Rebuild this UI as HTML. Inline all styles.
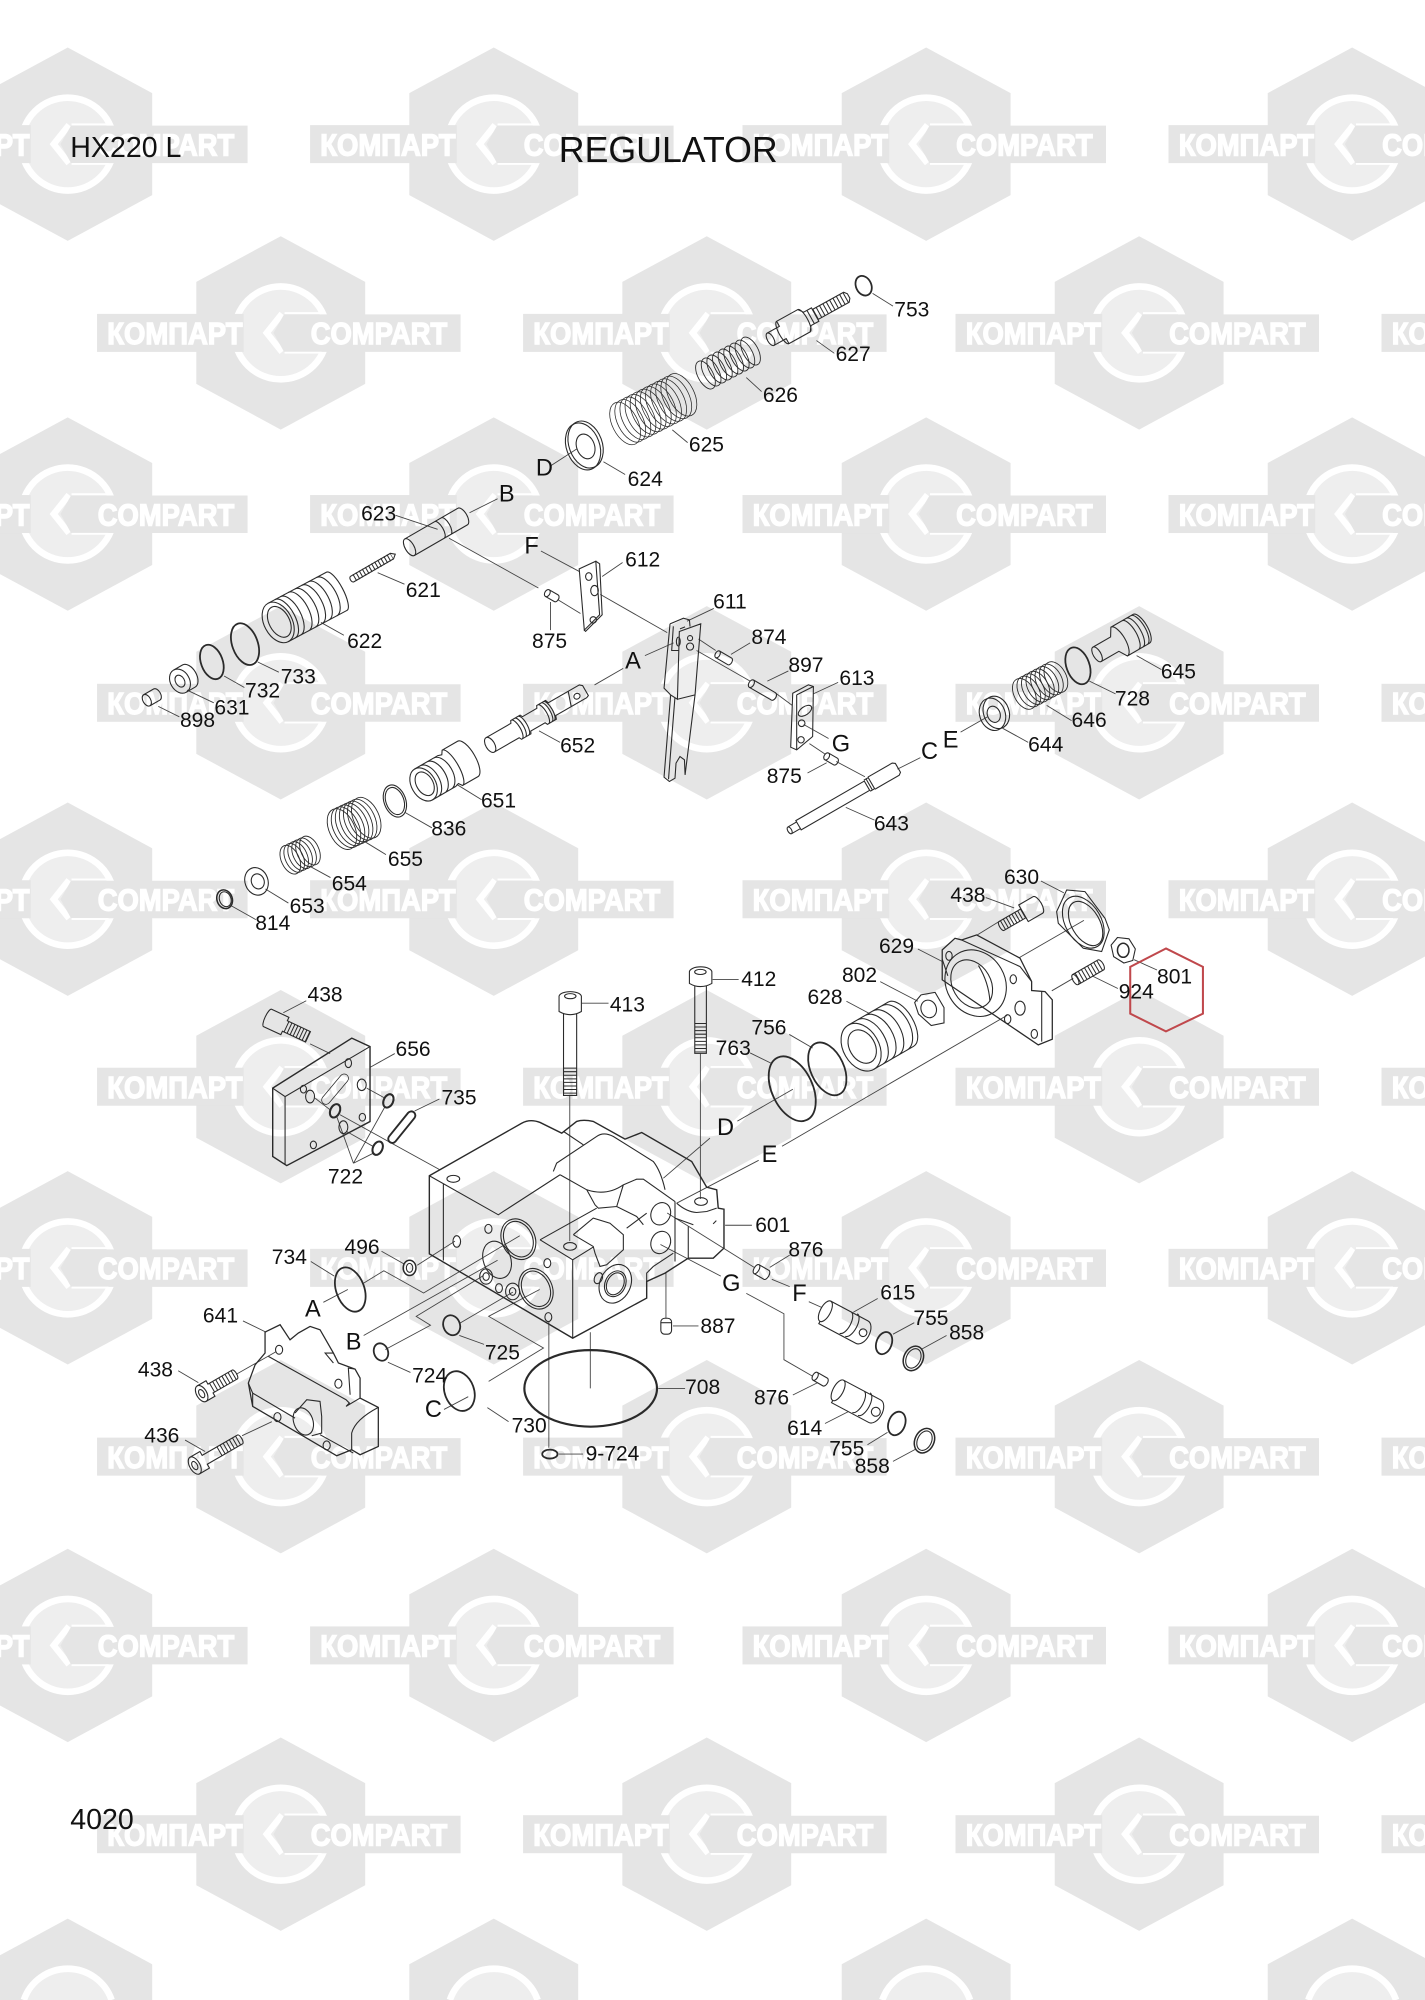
<!DOCTYPE html>
<html><head><meta charset="utf-8"><title>HX220 L Regulator</title>
<style>
html,body{margin:0;padding:0;background:#fff;width:1425px;height:2000px;overflow:hidden}
svg{display:block}
text{font-family:"Liberation Sans",sans-serif}
.l text{font-size:16.5px;fill:#111}
.c text{font-size:18.5px;fill:#111}
</style></head><body>
<svg xmlns="http://www.w3.org/2000/svg" width="1425" height="2000" viewBox="0 0 1117 1568">
<defs>
<g id="w">
<path d="M0-75.8 66.200-40V40L0 75.800-66.200 40V-40Z" fill="#e5e5e5"/>
<circle r="36.400" fill="#eeeeee" stroke="#fff" stroke-width="5.200"/>
<rect x="-144" y="-14.900" width="115" height="29.800" fill="#e5e5e5"/>
<path d="M1-15-11 0 1 15" fill="none" stroke="#fff" stroke-width="5"/>
<path d="M-5.700 0 2.600-14.500H141V14.900H2.600Z" fill="#e5e5e5"/>
<path d="M3-15.500H32M3 15.500H32" stroke="#fff" stroke-width="1.500"/>
<text x="-136" y="8.800" font-size="24" font-weight="bold" fill="#fff" stroke="#fff" stroke-width="1.100" textLength="106" lengthAdjust="spacingAndGlyphs">КОМПАРТ</text>
<text x="23.500" y="8.800" font-size="24" font-weight="bold" fill="#fff" stroke="#fff" stroke-width="1.100" textLength="107" lengthAdjust="spacingAndGlyphs">COMPART</text>
</g>
<g id="wt">
<path d="M0-75.800 66.200-40V-12H-66.200V-40Z" fill="#e5e5e5"/>
<path d="M-34.400-12A36.400 36.400 0 0 1 34.400-12Z" fill="#eeeeee"/>
<path d="M-34.400-12A36.400 36.400 0 0 1 34.400-12" fill="none" stroke="#fff" stroke-width="5.200"/>
</g>
</defs>
<rect width="1117" height="1568" fill="#fff"/>
<g>
<use href="#w" x="53" y="113"/><use href="#w" x="387" y="113"/><use href="#w" x="726" y="113"/><use href="#w" x="1060" y="113"/>
<use href="#w" x="220" y="261"/><use href="#w" x="554" y="261"/><use href="#w" x="893" y="261"/><use href="#w" x="1227" y="261"/>
<use href="#w" x="53" y="403"/><use href="#w" x="387" y="403"/><use href="#w" x="726" y="403"/><use href="#w" x="1060" y="403"/>
<use href="#w" x="220" y="551"/><use href="#w" x="554" y="551"/><use href="#w" x="893" y="551"/><use href="#w" x="1227" y="551"/>
<use href="#w" x="53" y="705"/><use href="#w" x="387" y="705"/><use href="#w" x="726" y="705"/><use href="#w" x="1060" y="705"/>
<use href="#w" x="220" y="852"/><use href="#w" x="554" y="852"/><use href="#w" x="893" y="852"/><use href="#w" x="1227" y="852"/>
<use href="#w" x="53" y="994"/><use href="#w" x="387" y="994"/><use href="#w" x="726" y="994"/><use href="#w" x="1060" y="994"/>
<use href="#w" x="220" y="1142"/><use href="#w" x="554" y="1142"/><use href="#w" x="893" y="1142"/><use href="#w" x="1227" y="1142"/>
<use href="#w" x="53" y="1290"/><use href="#w" x="387" y="1290"/><use href="#w" x="726" y="1290"/><use href="#w" x="1060" y="1290"/>
<use href="#w" x="220" y="1438"/><use href="#w" x="554" y="1438"/><use href="#w" x="893" y="1438"/><use href="#w" x="1227" y="1438"/>
<use href="#wt" x="53" y="1580"/><use href="#wt" x="387" y="1580"/><use href="#wt" x="726" y="1580"/><use href="#wt" x="1060" y="1580"/>
</g>

<!-- leaders -->
<path fill="none" stroke="#444" stroke-width=".7" d="M684 230 700 240M640 267 654 277M585 296 597 307M527 337 539 347M432 365 452 352M473 362 490 372
M368 402 390 391M310 404 343 415M352 422 422 461M437 470 455 481M424 432 454 448M472 452 488 441M431.500 472V494M470.500 466 523 496M296 449 317 458M251.500 488 269.500 498M202 519 218.500 527M175.600 530 191.500 539M146.500 541 167.500 551M124 553.800 140.500 562
M538.500 487 559.500 477M505.500 514 528 504M546 510 588 534M607.500 543 621 553M547.500 501 561 510M573 513 588 504M601.500 534 618 526M637.500 544 657 535M630 568 649.500 579M634.500 583 646.500 591M655.500 597 678 609M633 606 648 598M663 633 685.500 643M703.500 603 721.500 594M753 574 774 562M786 571 806 582M820.500 553 840 565M854 534 874.500 544M891 514 910.500 525
M422.500 573 439 582M466 537 488.500 524M358 615 377.500 627M317.500 637 338.500 649M284.500 659 302.500 670M242.500 679 259 688M208 697 226 708M181 710 200.500 721
M816 690.700 834 700M772.700 703.700 795 711.800M766 733 784 722M799 750.800 849.700 721.600M824.500 776.800 841.300 767M856.700 765.400 876.300 775M889 752.400 907 760.500M690 769.600 719.500 785M719.500 744 739 754M663.500 785 681.700 794.700M618.700 811 637 821.600M588 825.500 604.700 833.700M578 879 621.500 854M613 898.700 789.500 796
M558.600 768H579M549 826V940M456 786.500H477M446.600 859V973M430.200 1036V1135M438 1140H457M516 1088.500H537M462.700 1044.500V1088.500
M299 981 316.400 990.800M327 992 356.600 973M243.600 989 262 1000.500M253.400 1021 272.600 1011M285 1006 300.800 996.300 332 1013.700 407.400 968.800M285 1047 390 988M304 1068 321.700 1076M302 1058 337.400 1039 326.200 1032 379 1000M360 1047 379.400 1054M360 1037.600 402 1013M348 1105 367 1095M382 1103.600 398.600 1114.600M383 1083 426 1056.800 383 1032 423 1011
M568.400 960.600H589.400M520 923.700 556.500 892.300M530.400 943.300 594.700 909.700M603.400 993.600 619 984M605 1003 619 1008.700M523 951 591 993.500M517.700 975.700 565 1000.500M585 1014 614.500 1030V1066L637 1079M621.500 1093.700 641 1084M527.500 1039.500H547.500M522 997.700V1033.500M634 1020.500 644 1025M669 1028.700 688 1018M700 1046 716.700 1037M722 1058 742 1047M646.700 1116 665 1106.700M680 1132.700 695.700 1123M700 1145.700 718 1136
M190.400 1035.600 208.600 1044.500M139.600 1074.700 155.400 1084M185 1077.500 216.600 1059.600M145 1129 160.700 1138M189.700 1125.600 213 1114.600M222 794 240 784.600M243 818.400 258.700 826M290 836.800 309.400 826M325 871 344.400 861.600M277 912 263.900 875.400M277 912 301.800 867.500M277 912 292.600 904.100M247 861 258.700 870.100M266.500 874 344.900 917.200M271.700 887.100 292.600 898.900M287.400 853.100 301.800 861"/>

<g fill="none" stroke="#2a2a2a" stroke-width=".85">
<!-- o rings -->
<g stroke-width="1.400">
<ellipse cx="677" cy="224" rx="6" ry="8" transform="rotate(-25 677 224)"/>
<ellipse cx="192" cy="505" rx="10" ry="17" transform="rotate(-20 192 505)"/>
<ellipse cx="166" cy="519" rx="8.500" ry="14" transform="rotate(-20 166 519)"/>
<ellipse cx="845" cy="522" rx="9" ry="15" transform="rotate(-20 845 522)"/>
<ellipse cx="648.500" cy="838" rx="13" ry="22" transform="rotate(-25 648.500 838)"/>
<ellipse cx="621" cy="853.600" rx="16" ry="27" transform="rotate(-25 621 853.600)"/>
<ellipse cx="463" cy="1088.500" rx="52" ry="30" stroke-width="1.700"/>
<ellipse cx="274.500" cy="1011" rx="11" ry="18" transform="rotate(-20 274.500 1011)"/>
<ellipse cx="298.600" cy="1060" rx="5.500" ry="7" transform="rotate(-20 298.600 1060)"/>
<ellipse cx="354" cy="1039" rx="6.500" ry="8" transform="rotate(-20 354 1039)"/>
<ellipse cx="360" cy="1090.600" rx="11.500" ry="16" transform="rotate(-20 360 1090.600)"/>
<ellipse cx="693" cy="1053" rx="6" ry="9" transform="rotate(20 693 1053)"/>
<ellipse cx="703" cy="1116" rx="6.500" ry="9.500" transform="rotate(20 703 1116)"/>
<ellipse cx="431" cy="1140" rx="6" ry="3.500"/>
<ellipse cx="304.400" cy="863.100" rx="3.700" ry="5.500" transform="rotate(25 304.400 863.100)" stroke-width="1.600"/>
<ellipse cx="262.600" cy="870.900" rx="3.700" ry="5.500" transform="rotate(25 262.600 870.900)" stroke-width="1.600"/>
<ellipse cx="296" cy="900.200" rx="3.700" ry="5.500" transform="rotate(25 296 900.200)" stroke-width="1.600"/>
<rect x="-15" y="-3.200" width="30" height="6.400" rx="3.200" transform="translate(314.900 883.700) rotate(-51)" stroke-width="1.500"/>
</g>
<!-- 627 -->
<g transform="translate(604 266) rotate(-29)"><ellipse rx="2.500" ry="5.500"/><path d="M0-5.500H11V-10H30L33-6H40V6H33L30 10H11V5.500H0M11-10A3 10 0 0 0 11 10M30-10A3 10 0 0 1 30 10M36-6V6"/><path d="M40-4.500H68L70-2V2L68 4.500H40"/><line x1="40" x2="68" stroke-width="9" stroke-dasharray=".8 2.200"/></g>
<!-- 626 -->
<g transform="translate(553 294) rotate(-28)" stroke-width=".7"><ellipse rx="6" ry="12"/><ellipse cx="5" rx="6" ry="12"/><ellipse cx="10" rx="6" ry="12"/><ellipse cx="15" rx="6" ry="12"/><ellipse cx="20" rx="6" ry="12"/><ellipse cx="25" rx="6" ry="12"/><ellipse cx="30" rx="6" ry="12"/><ellipse cx="35" rx="6" ry="12"/><ellipse cx="40" rx="6" ry="12"/></g>
<!-- 625 -->
<g transform="translate(490 332) rotate(-27)" stroke-width=".6"><ellipse rx="10" ry="18"/><ellipse cx="4.500" rx="10" ry="18"/><ellipse cx="9" rx="10" ry="18"/><ellipse cx="13.500" rx="10" ry="18"/><ellipse cx="18" rx="10" ry="18"/><ellipse cx="22.500" rx="10" ry="18"/><ellipse cx="27" rx="10" ry="18"/><ellipse cx="31.500" rx="10" ry="18"/><ellipse cx="36" rx="10" ry="18"/><ellipse cx="40.500" rx="10" ry="18"/><ellipse cx="45" rx="10" ry="18"/><ellipse cx="49.500" rx="10" ry="18"/></g>
<!-- 624 -->
<ellipse cx="459" cy="348.500" rx="13" ry="19" transform="rotate(-20 459 348.500)"/><ellipse cx="457" cy="350" rx="13" ry="19" transform="rotate(-20 457 350)"/><ellipse cx="459" cy="350" rx="7" ry="10" transform="rotate(-20 459 350)"/>
<!-- 623 -->
<g transform="translate(321 429) rotate(-30)"><ellipse rx="3.500" ry="7.500"/><path d="M0-7.500H48A3.500 7.500 0 0 1 48 7.500H0M27-7.500A3 7.500 0 0 1 27 7.500M33-7.500A3 7.500 0 0 1 33 7.500"/></g>
<!-- 875 upper -->
<g transform="translate(429 465) rotate(30)"><ellipse rx="2" ry="3"/><path d="M0-3H8A2 3 0 0 1 8 3H0"/></g>
<!-- 612 -->
<path d="M454 446 467 440 470 482 458 494ZM467 440 470 442 472 482 459 495 458 494"/><ellipse cx="461.500" cy="452" rx="2.500" ry="3"/><ellipse cx="466" cy="463" rx="3" ry="4"/><ellipse cx="465" cy="486" rx="2.500" ry="2.500"/>
<!-- 621 -->
<g transform="translate(276 454) rotate(-30)"><path d="M0-2.500H36L39 0 36 2.500H0A1.500 2.500 0 0 1 0-2.500"/><line x1="2" x2="36" stroke-width="6" stroke-dasharray=".8 2"/></g>
<!-- 622 -->
<g transform="translate(218 488) rotate(-28)"><ellipse rx="11" ry="17"/><ellipse cx="1" rx="8" ry="13"/><path d="M0-17H52A5 17 0 0 1 52 17H0"/><path d="M6-17A8 17 0 0 1 6 17M11-17A8 17 0 0 1 11 17M18-17A8 17 0 0 1 18 17M24-17A8 17 0 0 1 24 17M30-17A8 17 0 0 1 30 17M36-17A8 17 0 0 1 36 17M43-17A8 17 0 0 1 43 17"/></g>
<!-- 631 -->
<g transform="translate(141 534) rotate(-30)"><ellipse rx="7.500" ry="10"/><ellipse rx="3.500" ry="5"/><path d="M0-10H8A6 10 0 0 1 8 10H0"/></g>
<!-- 898 -->
<g transform="translate(115 549) rotate(-30)"><ellipse rx="3" ry="5"/><path d="M0-5H9A3 5 0 0 1 9 5H0"/></g>
<!-- 611 -->
<path d="M525.200 489.100 535.700 484.700 540.400 486 540.900 491.200M525.200 489.100 520.500 539.500 525.700 544.800 520.500 609.300 524.700 612.700 529.100 610.100 529.900 598.300 533 593.100 536.500 595.700 537 607.500 544.800 544.800 549.300 489.100 532.500 495.100 531 548.200 525.700 544.800M531 548.200 544.800 544.800M529 547.400 524 611M527.800 491 526.500 510H532.500M533 493 537 491.500"/>
<circle cx="540.900" cy="500.300" r="2"/><circle cx="540.900" cy="506.900" r="2.800"/><ellipse cx="531.700" cy="503" rx="1.500" ry="3.500"/>
<!-- 874 / 897 -->
<g transform="translate(562.500 513) rotate(30)"><ellipse rx="1.800" ry="3"/><path d="M0-3H11A1.800 3 0 0 1 11 3H0"/></g>
<g transform="translate(589 536) rotate(30)"><ellipse rx="2" ry="3.300"/><path d="M0-3.300H20A2 3.300 0 0 1 20 3.300H0"/></g>
<!-- 613 -->
<path d="M621.400 543.500 633.700 536.900 637.600 538.200 637 577.400 624.500 587.900 619.800 585.800ZM624.500 544.800 637.600 538.200M624.500 544.800V587.900"/><ellipse cx="631" cy="557.300" rx="6" ry="3.200" transform="rotate(-35 631 557.300)"/><circle cx="628.400" cy="567" r="2.600"/><circle cx="627.900" cy="580" r="2.500"/>
<!-- 875 lower -->
<g transform="translate(648 593) rotate(30)"><ellipse rx="2" ry="3"/><path d="M0-3H8A2 3 0 0 1 8 3H0"/></g>
<!-- 643 -->
<g transform="translate(619 651) rotate(-30)"><ellipse rx="1.500" ry="3"/><path d="M0-3H8V-4.200H70V4.200H8V3H0M8-4.200V4.200M70-5H74V5H70M74-5.500H96L98-4V4L96 5.500H74M72-5V5"/></g>
<!-- 644 -->
<ellipse cx="781" cy="558.500" rx="10" ry="13" transform="rotate(-20 781 558.500)"/><ellipse cx="778" cy="560" rx="10" ry="13" transform="rotate(-20 778 560)"/><ellipse cx="779" cy="560" rx="5" ry="6.500" transform="rotate(-20 779 560)"/>
<!-- 646 -->
<g transform="translate(803 544) rotate(-28)" stroke-width=".7"><ellipse rx="8" ry="13"/><ellipse cx="4" rx="8" ry="13"/><ellipse cx="8" rx="8" ry="13"/><ellipse cx="12" rx="8" ry="13"/><ellipse cx="16" rx="8" ry="13"/><ellipse cx="20" rx="8" ry="13"/><ellipse cx="24" rx="8" ry="13"/><ellipse cx="28" rx="8" ry="13"/></g>
<!-- 645 -->
<g transform="translate(860 513) rotate(-30)"><ellipse rx="3" ry="6.500"/><path d="M0-6.500H16L20-13H40A5 13 0 0 1 40 13H20L16 6.500H0M20-13A5 13 0 0 1 20 13M30-13A5 13 0 0 1 30 13M34-13A5 13 0 0 1 34 13M38-13A5 13 0 0 1 38 13"/></g>
<!-- 652 -->
<g transform="translate(384.200 584) rotate(-30)"><ellipse rx="3.500" ry="6.500"/><path d="M0-6.500H22.500L23.500-8.500H32L33-6.500H46L47-8.500H55L56-5.800H84L86-4V5L84 5.800H56L55 8.500H47L46 6.500H33L32 8.500H23.500L22.500 6.500H0M24-8.500A3 8.500 0 0 1 24 8.500M27-8.500A3 8.500 0 0 1 27 8.500M30-8.500A3 8.500 0 0 1 30 8.500M48-8.500A3 8.500 0 0 1 48 8.500M51-8.500A3 8.500 0 0 1 51 8.500M53-8.500A3 8.500 0 0 1 53 8.500M74-5.800 70 5.800"/><ellipse cx="78" cy="1" rx="2.500" ry="2.200"/></g>
<!-- 651 -->
<g transform="translate(332 615) rotate(-30)"><ellipse rx="9.500" ry="14"/><ellipse cx="1" rx="6.500" ry="10"/><path d="M0-14H21L24-13 26-16H40A6 16 0 0 1 40 16H26L24 13 21 14H0M5-14A8 14 0 0 1 5 14M11-14A8 14 0 0 1 11 14M17-14A8 14 0 0 1 17 14M26-16A5 16 0 0 1 26 16"/></g>
<!-- 836 -->
<ellipse cx="309.500" cy="628" rx="8.500" ry="13" transform="rotate(-20 309.500 628)"/><ellipse cx="309.500" cy="628" rx="7" ry="11" transform="rotate(-20 309.500 628)"/>
<!-- 655 -->
<g transform="translate(268 650) rotate(-25)" stroke-width=".7"><ellipse rx="10" ry="17"/><ellipse cx="3.500" rx="10" ry="17"/><ellipse cx="7" rx="10" ry="17"/><ellipse cx="10.500" rx="10" ry="17"/><ellipse cx="14" rx="10" ry="17"/><ellipse cx="17.500" rx="10" ry="17"/><ellipse cx="21" rx="10" ry="17"/></g>
<!-- 654 -->
<g transform="translate(227.500 674) rotate(-25)" stroke-width=".7"><ellipse rx="7" ry="12"/><ellipse cx="3.400" rx="7" ry="12"/><ellipse cx="6.800" rx="7" ry="12"/><ellipse cx="10.200" rx="7" ry="12"/><ellipse cx="13.600" rx="7" ry="12"/><ellipse cx="17" rx="7" ry="12"/></g>
<!-- 653 -->
<ellipse cx="201" cy="691" rx="9" ry="11" transform="rotate(-20 201 691)"/><ellipse cx="202" cy="691" rx="5" ry="6" transform="rotate(-20 202 691)"/>
<!-- 814 -->
<ellipse cx="176" cy="705" rx="6" ry="7.500" stroke-width="1.200" transform="rotate(-20 176 705)"/><ellipse cx="176.500" cy="705" rx="4.500" ry="6" transform="rotate(-20 176.500 705)"/>
<!-- 630 -->
<path d="M828.300 714.700 836.200 697.700 850.500 699 866.200 719.900 869.600 729 863.600 746 849.200 743.400 829.600 723.800Z"/><ellipse cx="849.200" cy="723" rx="14" ry="22" transform="rotate(-30 849.200 723)"/><ellipse cx="851" cy="724" rx="11" ry="19" transform="rotate(-30 851 724)"/>
<!-- 438 right -->
<g transform="translate(785 726) rotate(-30)"><path d="M0-4H20V-7.500H33A3 7.500 0 0 1 33 7.500H20V4H0A1.500 4 0 0 1 0-4M20-7.500V7.500"/><line x1="1" x2="20" stroke-width="8" stroke-dasharray=".8 1.800"/></g>
<!-- 924 -->
<g transform="translate(843 768) rotate(-30)"><ellipse rx="2" ry="4.500"/><path d="M0-4.500H23A2 4.500 0 0 1 23 4.500H0"/><line x1="2" x2="23" stroke-width="9" stroke-dasharray=".8 2"/></g>
<!-- 801 -->
<path d="M876 735 885 736 890 744 888 753 881 755 873 750 871 741Z"/><ellipse cx="880.500" cy="745" rx="4.500" ry="5.500" stroke-width="1.200"/>
<!-- 629 -->
<path stroke-width="1" d="M738.600 744.700 748.600 735.600 753.800 736.900 765.600 733 799.600 751.200 808.700 769.500V776.600L819.200 777.400 824.900 783.900V814.700L813.900 819.200 738.600 768.200Z"/>
<path d="M753.800 737 799.600 757.800 808.700 769.500M816.600 777V816.600M738.600 752 743 765"/>
<ellipse cx="764.800" cy="770.800" rx="23" ry="27" transform="rotate(-30 764.800 770.800)"/><ellipse cx="761.700" cy="771.400" rx="15" ry="20" transform="rotate(-30 761.700 771.400)"/><path d="M767 757Q775 770 776 785"/>
<ellipse cx="743.900" cy="749.400" rx="2.500" ry="3.500"/><ellipse cx="794.300" cy="767.700" rx="2.500" ry="3.500"/><ellipse cx="799.600" cy="790.400" rx="4" ry="5.500"/><ellipse cx="789.900" cy="799" rx="2.500" ry="3.500"/><ellipse cx="810.800" cy="810.600" rx="2.500" ry="3.500"/>
<!-- 802 -->
<path d="M722 780 733 778 740 790 740 802 730 804 720 795 717 786Z"/><ellipse cx="728" cy="791" rx="6" ry="7" transform="rotate(-20 728 791)"/>
<!-- 628 -->
<g transform="translate(675 821) rotate(-30)"><ellipse rx="14" ry="20"/><ellipse cx="1" rx="10" ry="14"/><path d="M0-20H36A10 20 0 0 1 36 20H0M8-20A12 20 0 0 1 8 20M15-20A12 20 0 0 1 15 20M22-20A12 20 0 0 1 22 20M30-20A12 20 0 0 1 30 20"/></g>
<!-- 412 / 413 -->
<path d="M540.400 762A8.800 4 0 0 1 558 762V771Q549 776 540.400 771ZM544.600 773V825.800H553.700V773"/><ellipse cx="549" cy="762" rx="4.500" ry="2"/><line x1="549" y1="802" x2="549" y2="825" stroke-width="9" stroke-dasharray=".8 2"/>
<path d="M438.200 781A8.800 4 0 0 1 455.700 781V793Q447 798 438.200 793ZM441.700 795V858.800H452V795"/><ellipse cx="447" cy="781" rx="4.500" ry="2"/><line x1="447" y1="837" x2="447" y2="858" stroke-width="10" stroke-dasharray=".8 2"/>
<!-- 601 body -->
<path stroke-width="1.100" d="M336.500 921.800 408.900 880.600Q415.400 877 423.300 880L440.300 888.400 452 879.200Q457.200 877.500 465 879.200L489.900 893.100 503 887.900 542.200 910.600 553.900 930.700 561.800 932.800 563 947.200 567.500 948V978.500L559.100 986.400H539.500L521.300 998.100 506.900 1004.700V1017.700L448.900 1049.100 336.500 983Z"/>
<path d="M347.500 928V988.200M336.500 921.800 390.600 952.400 394.500 949.800 439 921M457.200 897.500 441.600 887M433.700 918.400 436.300 911.900 467.700 891Q473 887 480.800 891L512.100 910.600Q518 918 521.300 932.800M439 921 459.900 932.800Q475.500 938 488.600 928.900L499 924.500H504.300L529.100 942M459.900 932.800 466.400 944.600 469 947.200 483.400 945.900 499 953.700 504.300 960.200M488.600 928.900 483.400 945.900M529.100 942V989M449.400 968 465 955 478.100 959 488.600 968V979.800L475.500 991.600 470.300 992.900 466.400 982.500 465 977.200 449.400 968M423.300 972 467.700 947.200M423.300 972 448.900 987.700V1049M448.900 987.700 465 977.700M491.200 962.900 506.900 951.100M506.900 1004.700V998.100L512.100 992.900 527.800 982.500M529.100 955 543.500 960.200M539.500 961.600V986.400M530.400 943.300Q538 950 546 950.600L554 949.800 561.800 947.200M559 959.500 561.500 957"/>
<ellipse cx="355.300" cy="924.200" rx="5" ry="2.700"/><ellipse cx="446.800" cy="977.200" rx="5" ry="3"/><ellipse cx="549.500" cy="942" rx="5" ry="3"/>
<ellipse cx="406.300" cy="971.500" rx="13" ry="16.500" transform="rotate(-25 406.300 971.500)"/><ellipse cx="406.300" cy="971.500" rx="11" ry="14.500" transform="rotate(-25 406.300 971.500)"/><ellipse cx="389.600" cy="987.700" rx="10.700" ry="15" transform="rotate(-20 389.600 987.700)"/><ellipse cx="420.100" cy="1010.400" rx="12.700" ry="16.500" transform="rotate(-25 420.100 1010.400)"/><ellipse cx="420.100" cy="1010.400" rx="10.700" ry="14.500" transform="rotate(-25 420.100 1010.400)"/>
<ellipse cx="381" cy="1000.800" rx="5" ry="6"/><ellipse cx="381" cy="1000.800" rx="2.500" ry="3"/><ellipse cx="401.800" cy="1012.500" rx="5.500" ry="6.500"/><ellipse cx="401.800" cy="1012.500" rx="2.500" ry="3"/>
<ellipse cx="382.800" cy="963.400" rx="2.800" ry="3.500"/><ellipse cx="391.100" cy="1009.900" rx="2.700" ry="3.500"/><ellipse cx="429" cy="990.300" rx="2.700" ry="3.500"/><ellipse cx="429.800" cy="1032.600" rx="2.700" ry="3.500"/><ellipse cx="358" cy="973.300" rx="3" ry="4.500"/>
<ellipse cx="517.900" cy="951.600" rx="7.500" ry="9" transform="rotate(25 517.900 951.600)"/><ellipse cx="517.900" cy="974.100" rx="7.500" ry="9" transform="rotate(25 517.900 974.100)"/><ellipse cx="469" cy="1002.100" rx="3" ry="4.500" transform="rotate(25 469 1002.100)"/><ellipse cx="482.300" cy="1006.500" rx="12" ry="15.700" transform="rotate(25 482.300 1006.500)"/><ellipse cx="482.300" cy="1006.500" rx="8" ry="10.500" transform="rotate(25 482.300 1006.500)"/><ellipse cx="482.300" cy="1006.500" rx="6.500" ry="9" transform="rotate(25 482.300 1006.500)"/>
<!-- 496 -->
<ellipse cx="321" cy="994" rx="5" ry="6" stroke-width="1.200"/><ellipse cx="321" cy="994" rx="2.500" ry="3.500"/>
<!-- 876 -->
<g transform="translate(593 995) rotate(30)"><ellipse rx="2" ry="4"/><path d="M0-4H9A2 4 0 0 1 9 4H0"/></g>
<g transform="translate(639 1079) rotate(30)"><ellipse rx="2" ry="3.500"/><path d="M0-3.500H9A2 3.500 0 0 1 9 3.500H0"/></g>
<!-- 887 -->
<rect x="518" y="1033.500" width="8.400" height="12.500" rx="3"/><path d="M518 1037H526.400"/>
<!-- 615 / 614 -->
<g transform="translate(647 1028) rotate(28)"><ellipse rx="4" ry="9"/><path d="M0-9H33A6 10 0 0 1 33 11H0V9M18-9A4 9 0 0 1 18 10M23-10A4 9 0 0 1 23 10"/><circle cx="34" cy="1" r="3"/></g>
<g transform="translate(657 1090) rotate(28)"><ellipse rx="4" ry="9"/><path d="M0-9H33A6 10 0 0 1 33 11H0V9M18-9A4 9 0 0 1 18 10M23-10A4 9 0 0 1 23 10"/><circle cx="34" cy="1" r="3.500"/></g>
<!-- 858 -->
<ellipse cx="716" cy="1065" rx="7.500" ry="10" stroke-width="1.200" transform="rotate(25 716 1065)"/><ellipse cx="716" cy="1065" rx="5.500" ry="8" transform="rotate(25 716 1065)"/>
<ellipse cx="724.700" cy="1129.500" rx="7.500" ry="10" stroke-width="1.200" transform="rotate(25 724.700 1129.500)"/><ellipse cx="724.700" cy="1129.500" rx="5.500" ry="8" transform="rotate(25 724.700 1129.500)"/>
<!-- 641 -->
<path stroke-width="1" d="M207.700 1044.300 219.500 1038.600 227.300 1050.400 233.800 1045.100 243 1039.900 250.800 1042.500 261.300 1060.800 265.200 1068.600 278.300 1073.400 282.200 1080.400V1096.100L296.500 1103.400V1134L282.200 1140.500 275.600 1136.600 263.900 1141.300 198 1102.600 194.600 1084.300 199.900 1070 207.700 1060.800Z"/>
<path d="M210.300 1063.400 271.200 1097.400 273.800 1100 271.200 1102.600 282.200 1096.100M261.300 1060.800 254.800 1060.800 261.300 1068.600M278.300 1073.400 273 1072.600 274.400 1093.500M194.600 1084.300 198 1092.200V1102.600M198 1092.200 231.200 1111.800M250.800 1124.800 276.900 1139.200M296.500 1103.400Q278.300 1113 275.600 1123.600V1136.600M231.200 1107.800 240.400 1097.400 250.800 1098.700 252.100 1110.500V1123.500L244.300 1125.600"/>
<ellipse cx="237.700" cy="1114.400" rx="7.500" ry="11" transform="rotate(-20 237.700 1114.400)"/>
<ellipse cx="218.700" cy="1058.200" rx="2.800" ry="3.500"/><ellipse cx="265.200" cy="1084.800" rx="2.800" ry="3.500"/><ellipse cx="217.400" cy="1111" rx="2.800" ry="3.500"/><ellipse cx="256" cy="1133.200" rx="2.800" ry="3.500"/>
<!-- 438 lower left -->
<g transform="translate(158 1092.600) rotate(-30)"><ellipse rx="4" ry="7"/><ellipse rx="2" ry="3.500"/><path d="M0-7H8V-4H30A1.500 4 0 0 1 30 4H8V7H0"/><line x1="9" x2="30" stroke-width="8" stroke-dasharray=".8 2"/></g>
<!-- 436 -->
<g transform="translate(152.600 1149) rotate(-30)"><ellipse rx="4" ry="7.500"/><ellipse rx="2" ry="3.500"/><path d="M0-7.500H9V-4H41A1.500 4 0 0 1 41 4H9V7.500H0"/><line x1="22" x2="41" stroke-width="8" stroke-dasharray=".8 2"/></g>
<!-- 438 upper -->
<g transform="translate(216 801) rotate(25)"><path d="M-7-7.500H8V-4.500H28V4.500H8V7.500H-7A2 7.500 0 0 1-7-7.500"/><line x1="9" x2="28" stroke-width="9" stroke-dasharray=".8 1.800"/></g>
<!-- 656 -->
<path stroke-width="1.100" d="M213.700 853.100 275.700 813.900 290 820.500V879.300L224.700 913.800 213.700 906.700Z"/><path d="M213.700 853.100 223.400 859.700 290 820.500M223.400 859.700V913"/>
<ellipse cx="273" cy="833.500" rx="2.500" ry="3.500"/><ellipse cx="283.500" cy="850.500" rx="3.500" ry="4.500"/><ellipse cx="237.800" cy="853.900" rx="2.400" ry="3"/><ellipse cx="243" cy="859.700" rx="3.500" ry="5"/><ellipse cx="284" cy="875.900" rx="2.500" ry="3"/><ellipse cx="269.100" cy="883.700" rx="3.500" ry="5"/><ellipse cx="245.600" cy="897.600" rx="2.400" ry="3"/>
<rect x="-14.500" y="-3.400" width="29" height="6.800" rx="3.400" transform="translate(262.600 853.900) rotate(-50)" stroke-width=".6"/>
</g>

<!-- red hex -->
<path d="M914 743.600 943 758V794.700L914 808.600 886 794.700V758Z" fill="none" stroke="#c0484c" stroke-width="1.600"/>

<text x="55" y="123" font-size="22.400" fill="#111">HX220 L</text>
<text x="438" y="127" font-size="28" fill="#111">REGULATOR</text>
<text x="55" y="1434" font-size="22.400" fill="#111">4020</text>

<g class="l">
<text x="701" y="248">753</text><text x="655" y="283">627</text><text x="598" y="315">626</text><text x="540" y="354">625</text><text x="492" y="381">624</text>
<text x="283" y="408">623</text><text x="318" y="468">621</text><text x="272" y="508">622</text><text x="490" y="444">612</text><text x="417" y="508">875</text>
<text x="559" y="477">611</text><text x="589" y="505">874</text><text x="618" y="527">897</text><text x="658" y="537">613</text>
<text x="220" y="536">733</text><text x="192" y="547">732</text><text x="168" y="560">631</text><text x="141" y="570">898</text>
<text x="439" y="590">652</text><text x="377" y="633">651</text><text x="338" y="655">836</text><text x="304" y="679">655</text><text x="260" y="698">654</text><text x="227" y="716">653</text><text x="200" y="729">814</text>
<text x="601" y="614">875</text><text x="806" y="589">644</text><text x="840" y="570">646</text><text x="874" y="553">728</text><text x="910" y="532">645</text><text x="685" y="651">643</text>
<text x="745" y="707">438</text><text x="787" y="693">630</text><text x="689" y="747">629</text><text x="660" y="770">802</text><text x="633" y="787">628</text><text x="589" y="811">756</text><text x="561" y="827">763</text>
<text x="581" y="773">412</text><text x="478" y="793">413</text><text x="907" y="771">801</text><text x="877" y="783">924</text>
<text x="241" y="785">438</text><text x="310" y="828">656</text><text x="346" y="866">735</text><text x="257" y="928">722</text>
<text x="592" y="966">601</text><text x="618" y="985">876</text><text x="213" y="991">734</text><text x="270" y="983">496</text>
<text x="690" y="1019">615</text><text x="716" y="1039">755</text><text x="744" y="1050">858</text><text x="549" y="1045">887</text>
<text x="159" y="1037">641</text><text x="380" y="1066">725</text><text x="323" y="1084">724</text><text x="537" y="1093">708</text><text x="108" y="1079">438</text>
<text x="591" y="1101">876</text><text x="401" y="1123">730</text><text x="617" y="1125">614</text><text x="650" y="1141">755</text><text x="113" y="1131">436</text><text x="459" y="1145">9-724</text><text x="670" y="1155">858</text>
</g>
<g class="c">
<text x="420" y="373">D</text><text x="391" y="393">B</text><text x="411" y="434">F</text><text x="490" y="524">A</text><text x="652" y="589">G</text><text x="722" y="595">C</text><text x="739" y="586">E</text>
<text x="562" y="890">D</text><text x="597" y="911">E</text><text x="621" y="1020">F</text><text x="566" y="1012">G</text><text x="239" y="1032">A</text><text x="271" y="1058">B</text><text x="333" y="1111">C</text>
</g>
</svg>
</body></html>
